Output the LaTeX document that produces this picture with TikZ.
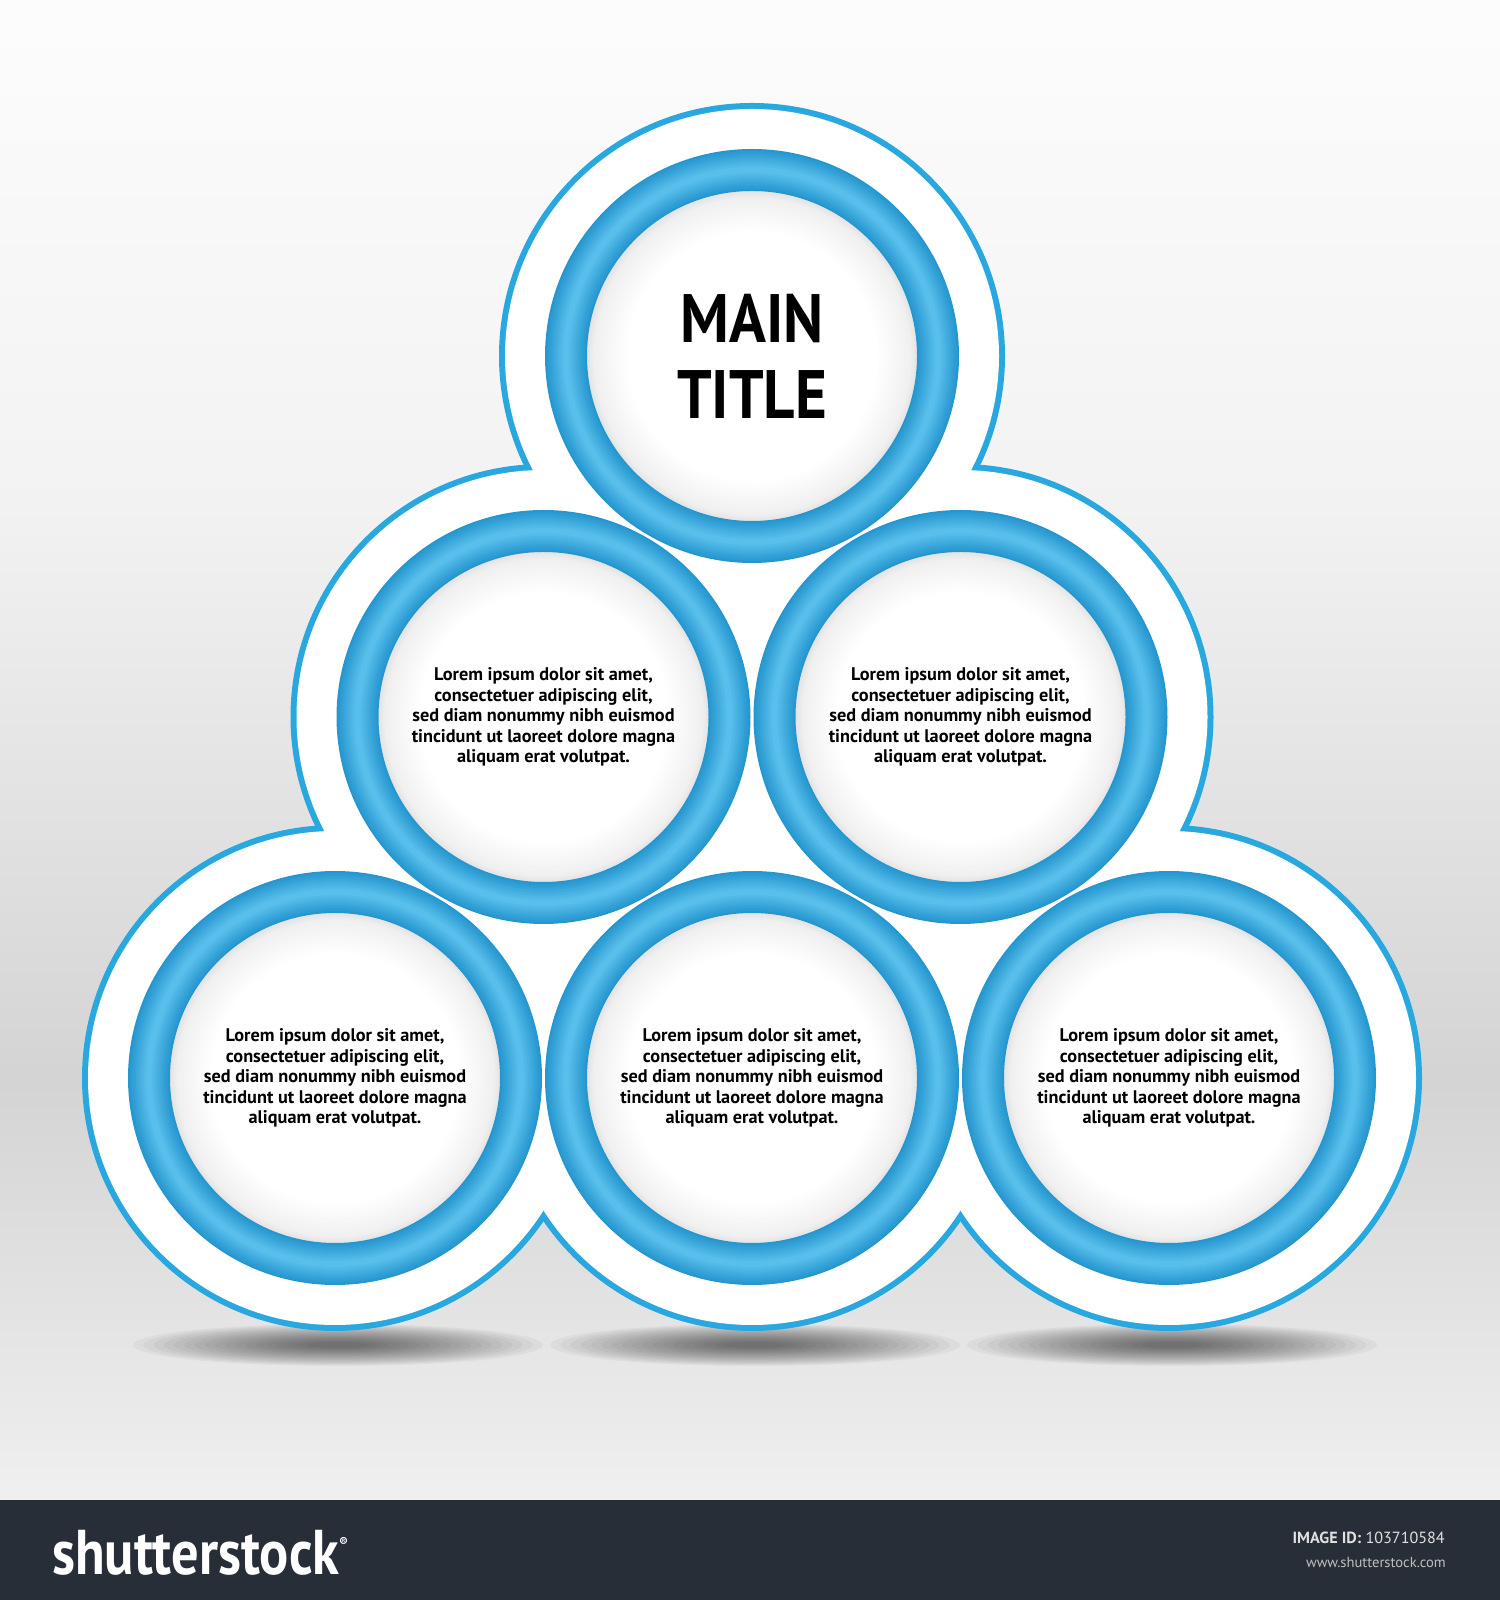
\documentclass[tikz,border=0pt]{standalone}
\usepackage{fontspec}
\setmainfont{PT Sans}
\usetikzlibrary{calc}

\definecolor{borde}{HTML}{29A8E0}
\definecolor{azulos}{HTML}{2596CF}
\definecolor{azulbr}{HTML}{5EC3EE}
\definecolor{barra}{HTML}{282E38}
\pgfdeclareradialshading{disco}{\pgfpoint{0bp}{0bp}}{color(0bp)=(white); color(18bp)=(white); color(23bp)=(black!6); color(25bp)=(black!16); color(50bp)=(black!16)}

\newcommand{\textolorem}{Lorem ipsum dolor sit amet,\\consectetuer adipiscing elit,\\sed diam nonummy nibh euismod\\tincidunt ut laoreet dolore magna\\aliquam erat volutpat.}

\tikzset{
  contorno/.style={draw=borde, line width=0.24cm},
  relleno/.style={fill=white},
  sombra/.style={fill=black, fill opacity=0.035},
  titulo/.style={font=\bfseries\fontsize{39}{43.2}\selectfont, align=center},
  texto/.style={font=\bfseries\fontsize{10.4}{11.6}\selectfont, align=center}
}

\begin{document}
\begin{tikzpicture}[x=0.02cm, y=0.02cm]
	\useasboundingbox (0,0) rectangle (1500,1600);

	% Fondo degradado
	\shade[top color=black!1, bottom color=black!5] (0,1098) rectangle (1500,1600);
	\shade[top color=black!5, bottom color=black!17] (0,518) rectangle (1500,1100);
	\shade[top color=black!17, bottom color=black!6] (0,100) rectangle (1500,520);

	% Barra inferior
	\fill[barra] (0,0) rectangle (1500,100);

	% Centros de los circulos
	\coordinate (c1) at (752,1244);
	\coordinate (c2) at (543.5,883);
	\coordinate (c3) at (960.5,883);
	\coordinate (c4) at (335,522);
	\coordinate (c5) at (752,522);
	\coordinate (c6) at (1169,522);

	% Sombras bajo la figura
	\foreach \px in {338,755,1172}
		\foreach \s in {1,0.95,...,0.1}
			\fill[sombra] (\px,255) ellipse ({205*\s} and {21*\s});

	% Contorno blanco con borde azul
	\foreach \c in {c1,c2,c3,c4,c5,c6}
		\draw[contorno] (\c) circle (247);
	\foreach \c in {c1,c2,c3,c4,c5,c6}
		\fill[relleno] (\c) circle (247);

	% Discos y anillos
	\foreach \c in {c1,c2,c3,c4,c5,c6} {
		\shade[shading=disco] (\c) circle (172);
		\foreach \k in {0,...,9}
			\draw[azulbr!\the\numexpr\k*10\relax!azulos, line width={(0.84-0.08*\k)*1cm}] (\c) circle (186);
	}

	% Textos
	\node[titulo] (tit) at (c1) {\scalebox{0.89}[1]{MAIN}\\\scalebox{0.89}[1]{TITLE}};
	\node[texto] (t2) at (c2) {\textolorem};
	\node[texto] (t3) at (c3) {\textolorem};
	\node[texto] (t4) at (c4) {\textolorem};
	\node[texto] (t5) at (c5) {\textolorem};
	\node[texto] (t6) at (c6) {\textolorem};

	% Pie
	\node[anchor=west, text=white, font=\bfseries\fontsize{36}{36}\selectfont] (logo) at (46,47) {\scalebox{0.86}[1]{shutterstock}\raisebox{0.9ex}{\fontsize{7}{7}\selectfont ®}};
	\node[anchor=east, text=black!12, font=\fontsize{9.2}{10}\selectfont] (imgid) at (1451,62) {\textbf{IMAGE ID:} 103710584};
	\node[anchor=east, text=black!25, font=\fontsize{8.3}{10}\selectfont] (web) at (1452,38) {www.shutterstock.com};
\end{tikzpicture}
\end{document}
